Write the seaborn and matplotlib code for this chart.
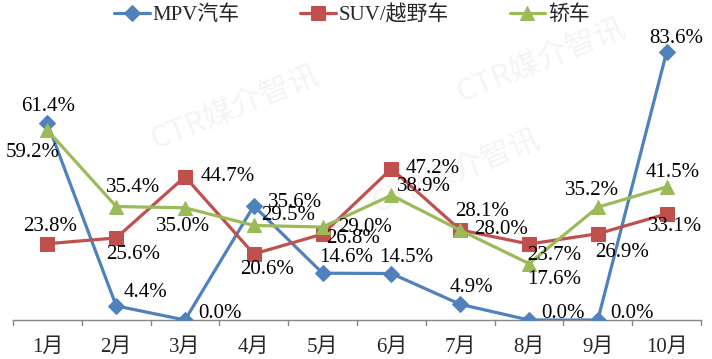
import matplotlib
matplotlib.use("Agg")
import matplotlib.pyplot as plt
import seaborn as sns
import pandas as pd

months = ["1月", "2月", "3月", "4月", "5月", "6月", "7月", "8月", "9月", "10月"]
series_names = ["MPV汽车", "SUV/越野车", "轿车"]
mpv = [61.4, 4.4, 0.0, 35.6, 14.6, 14.5, 4.9, 0.0, 0.0, 83.6]
suv = [23.8, 25.6, 44.7, 20.6, 26.8, 47.2, 28.1, 23.7, 26.9, 33.1]
sedan = [59.2, 35.4, 35.0, 29.5, 29.0, 38.9, 28.0, 17.6, 35.2, 41.5]

colors = ["#4F81BD", "#C0504D", "#9BBB59"]
markers = ["D", "s", "^"]
msizes = [8, 10, 10]

# label offsets in pixels (style only)
offsets = [
    [(1, 17), (29, 13), (35, 7), (41, 3), (24, 16), (15, 16), (11, 17), (34, 7), (34, 7), (10, 14)],
    [(3, 17), (17, -17), (43, 0), (13, -16), (30, -4), (41, 0), (22, 18), (25, -11), (24, -19), (8, -13)],
    [(-15, -22), (17, 19), (-2, -19), (34, 10), (42, 0), (33, 9), (41, 1), (25, -16), (-6, 17), (6, 14)],
]

sns.set_theme(style="white")
FONT = ["Liberation Serif", "Noto Sans CJK SC"]
plt.rcParams["font.family"] = FONT

fig = plt.figure(figsize=(7.12, 3.59), dpi=100)
ax = fig.add_axes([13 / 712, 39 / 359, 688 / 712, 288.5 / 359])

df = pd.DataFrame({"月份": months * 3,
                   "占比": mpv + suv + sedan,
                   "车型": sum([[n] * len(months) for n in series_names], [])})

# very faint watermark, beneath the data
for (x, y) in [(0.76, 0.83), (0.64, 0.52), (0.33, 0.70)]:
    ax.text(x, y, "CTR媒介智讯", fontsize=22, color="#f4f4f4", rotation=22,
            ha="center", va="center", family=["Noto Sans CJK SC"], zorder=0.5,
            transform=fig.transFigure)

for i, name in enumerate(series_names):
    sub = df[df["车型"] == name]
    sns.lineplot(data=sub, x="月份", y="占比", ax=ax, color=colors[i], marker=markers[i],
                 markersize=msizes[i], markeredgecolor=colors[i], linewidth=2.3,
                 sort=False, label=name, legend=False, zorder=3 + i)

for i, vals in enumerate([mpv, suv, sedan]):
    for j, v in enumerate(vals):
        ax.annotate(f"{v:.1f}%", xy=(j, v), xytext=offsets[i][j], textcoords="offset pixels",
                    ha="center", va="center", fontsize=15, family=FONT, color="black",
                    zorder=10, annotation_clip=False)

ax.set_xlim(-0.5, len(months) - 0.5)
ax.set_ylim(0, 90)
ax.set_xlabel("")
ax.set_ylabel("")
ax.set_yticks([])
ax.set_xticks(range(len(months)))
ax.set_xticklabels(months, fontsize=15, family=FONT)
ax.tick_params(axis="x", length=0, pad=13)
# boundary tick marks
for b in range(len(months) + 1):
    ax.plot([b - 0.5, b - 0.5], [0, -1.6], color="#868686", lw=1, clip_on=False, zorder=2)
for s in ["top", "right", "left"]:
    ax.spines[s].set_visible(False)
ax.spines["bottom"].set_color("#868686")
ax.spines["bottom"].set_linewidth(1)
ax.set_facecolor("none")

h, l = ax.get_legend_handles_labels()
fig.legend(h, l, loc="center", bbox_to_anchor=(352 / 712, 1 - 15 / 359), ncol=3, frameon=False,
           prop={"family": FONT, "size": 15}, handlelength=1.7, handletextpad=0.15,
           columnspacing=2.9, borderaxespad=0)

fig.savefig("out.png", dpi=100, facecolor="white")
